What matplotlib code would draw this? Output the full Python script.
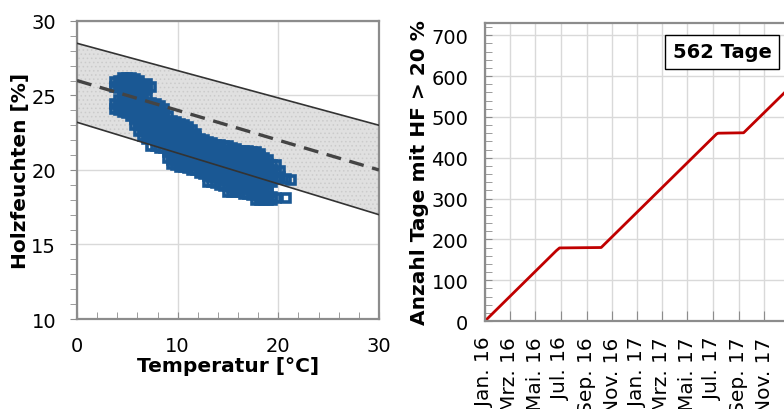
"""
plot.py — Holzfeuchte vs. Temperatur und kumulierte Tage mit HF > 20 %
"""

import matplotlib
matplotlib.use("Agg")
import matplotlib.pyplot as plt
from matplotlib.ticker import MultipleLocator
import pandas as pd

# ── Data: left panel (scatter + sorption band) ───────────────────────────────
band_temp = [0, 30]
band_upper = [28.5, 23.0]
band_mid = [26.0, 20.0]
band_lower = [23.2, 17.0]

temp_cols = [3.8, 4.2, 4.6, 5.0, 5.4, 5.8, 6.2, 6.6, 7.0, 7.4, 7.8, 8.2, 8.6,
             9.0, 9.4, 9.8, 10.2, 10.6, 11.0, 11.4, 11.8, 12.2, 12.6, 13.0,
             13.4, 13.8, 14.2, 14.6, 15.0, 15.4, 15.8, 16.2, 16.6, 17.0, 17.4,
             17.8, 18.2, 18.6, 19.0, 19.4, 19.8, 20.2, 20.8, 21.3]
moist_cols = [
    [24.1, 24.4, 25.6, 25.9],
    [24.0, 24.3, 24.7, 25.5, 25.8, 26.0],
    [23.9, 24.2, 24.6, 25.0, 25.4, 25.7, 26.0, 26.2],
    [23.8, 24.1, 24.5, 24.9, 25.3, 25.6, 25.9, 26.2],
    [23.6, 23.9, 24.3, 24.7, 25.0, 25.4, 25.7, 26.0, 26.2],
    [23.0, 23.4, 23.8, 24.2, 24.6, 24.9, 25.3, 25.6, 25.9, 26.1],
    [22.6, 23.0, 23.3, 23.7, 24.1, 24.5, 24.8, 25.2, 25.5, 25.8, 26.0],
    [22.3, 22.6, 23.0, 23.4, 23.8, 24.2, 24.6, 25.0, 25.4, 25.7],
    [22.1, 22.4, 22.8, 23.2, 23.6, 24.0, 24.4, 24.8, 25.5, 25.8],
    [21.6, 22.2, 22.5, 22.9, 23.3, 23.7, 24.1, 24.5, 25.6],
    [21.6, 22.0, 22.4, 22.8, 23.2, 23.6, 24.0, 24.4],
    [21.5, 21.9, 22.3, 22.7, 23.1, 23.5, 23.9, 24.3],
    [21.5, 21.8, 22.2, 22.6, 23.0, 23.4, 23.8, 24.1],
    [20.8, 21.2, 21.6, 22.0, 22.4, 22.8, 23.2, 23.6],
    [20.4, 20.7, 21.0, 21.4, 21.8, 22.2, 22.6, 23.0, 23.3],
    [20.3, 20.6, 21.0, 21.3, 21.7, 22.1, 22.5, 22.9, 23.2],
    [20.2, 20.5, 20.9, 21.2, 21.6, 22.0, 22.4, 22.8, 23.1],
    [20.2, 20.5, 20.8, 21.2, 21.6, 22.0, 22.4, 22.8, 23.0],
    [20.1, 20.4, 20.8, 21.1, 21.5, 21.9, 22.3, 22.7, 22.9],
    [20.0, 20.3, 20.7, 21.1, 21.5, 21.9, 22.3, 22.7],
    [20.0, 20.3, 20.6, 21.0, 21.4, 21.8, 22.2, 22.4],
    [19.8, 20.2, 20.6, 21.0, 21.4, 21.8, 22.1],
    [19.7, 20.0, 20.4, 20.8, 21.2, 21.6, 22.0],
    [19.2, 19.6, 20.0, 20.4, 20.8, 21.2, 21.6, 21.9],
    [19.2, 19.5, 19.9, 20.3, 20.7, 21.1, 21.5, 21.8],
    [19.1, 19.5, 19.8, 20.2, 20.6, 21.0, 21.4, 21.7],
    [19.0, 19.4, 19.8, 20.2, 20.6, 21.0, 21.4, 21.7],
    [18.9, 19.3, 19.7, 20.1, 20.5, 20.9, 21.3, 21.6],
    [18.5, 18.9, 19.3, 19.7, 20.1, 20.5, 20.9, 21.3, 21.6],
    [18.5, 18.8, 19.2, 19.6, 20.0, 20.4, 20.8, 21.2, 21.5],
    [18.5, 18.8, 19.2, 19.6, 20.0, 20.4, 20.8, 21.2, 21.4],
    [18.5, 18.8, 19.1, 19.5, 19.9, 20.3, 20.7, 21.1, 21.3],
    [18.4, 18.8, 19.1, 19.5, 19.9, 20.3, 20.7, 21.1, 21.3],
    [18.4, 18.7, 19.0, 19.4, 19.8, 20.2, 20.6, 21.0, 21.3],
    [18.3, 18.6, 19.0, 19.4, 19.8, 20.2, 20.6, 21.0, 21.2],
    [18.0, 18.3, 18.6, 19.0, 19.4, 19.8, 20.2, 20.6, 21.0, 21.2],
    [18.0, 18.2, 18.5, 18.9, 19.3, 19.7, 20.1, 20.5, 20.9, 21.1],
    [18.0, 18.2, 18.5, 18.9, 19.3, 19.7, 20.1, 20.5, 20.8],
    [18.0, 18.2, 18.5, 18.8, 19.2, 19.6, 20.0, 20.4, 20.7],
    [18.0, 18.2, 19.2, 19.6, 20.0, 20.3],
    [18.1, 19.4, 19.8, 20.3],
    [19.5, 19.9],
    [18.1, 19.4],
    [19.3],
]

# ── Data: right panel (cumulative days) ──────────────────────────────────────
cum_dates = ["2016-01-01", "2016-06-20", "2016-06-28", "2016-10-06",
             "2017-07-10", "2017-07-14", "2017-09-13", "2017-12-23"]
cum_days = [0, 172, 179, 180, 458, 460, 461, 562]

month_ticks = ["2016-01-01", "2016-03-01", "2016-05-01", "2016-07-01",
               "2016-09-01", "2016-11-01", "2017-01-01", "2017-03-01",
               "2017-05-01", "2017-07-01", "2017-09-01", "2017-11-01"]
month_labels = ["Jan. 16", "Mrz. 16", "Mai. 16", "Jul. 16", "Sep. 16",
                "Nov. 16", "Jan. 17", "Mrz. 17", "Mai. 17", "Jul. 17",
                "Sep. 17", "Nov. 17"]

BLUE = "#1A5894"
RED = "#C00000"
SPINE = "#8C8C8C"
GRID = "#D9D9D9"

plt.rcParams["font.family"] = ["DejaVu Sans"]
plt.rcParams["hatch.linewidth"] = 0.6

fig = plt.figure(figsize=(7.84, 4.10), dpi=100)

# ── Left: Holzfeuchte vs Temperatur ──────────────────────────────────────────
ax = fig.add_axes([0.0982, 0.2195, 0.3852, 0.727])
ax.set_axisbelow(True)
ax.grid(True, color=GRID, linewidth=1.0)
ax.fill_between(band_temp, band_lower, band_upper, facecolor="#E0E0E0",
                edgecolor="#CBCBCB", hatch="....", linewidth=0, zorder=1)

xs, ys = [], []
for t, col in zip(temp_cols, moist_cols):
    xs += [t] * len(col)
    ys += col
ax.plot(xs, ys, "s", markersize=6.0, markerfacecolor="none",
        markeredgecolor=BLUE, markeredgewidth=2.6, zorder=3)

ax.plot(band_temp, band_upper, color="#333333", linewidth=1.2, zorder=4)
ax.plot(band_temp, band_lower, color="#333333", linewidth=1.2, zorder=4)
ax.plot(band_temp, band_mid, color="#444444", linewidth=2.4,
        linestyle=(0, (4.5, 2.6)), zorder=4)

ax.set_xlim(0, 30)
ax.set_ylim(10, 30)
ax.set_xticks([0, 10, 20, 30])
ax.set_yticks([10, 15, 20, 25, 30])
ax.xaxis.set_minor_locator(MultipleLocator(2))
ax.yaxis.set_minor_locator(MultipleLocator(1))
ax.tick_params(axis="x", which="both", direction="in", length=5,
               color=SPINE, labelsize=14, pad=12)
ax.tick_params(axis="y", which="both", direction="out", length=5,
               color=SPINE, labelsize=14, pad=10)
for s in ax.spines.values():
    s.set_color(SPINE)
    s.set_linewidth(1.6)
ax.set_xlabel("Temperatur [°C]", fontsize=14.5, fontweight="bold", labelpad=1)
ax.set_ylabel("Holzfeuchten [%]", fontsize=14.5, fontweight="bold", labelpad=1)

# ── Right: Anzahl Tage mit HF > 20 % ─────────────────────────────────────────
ax2 = fig.add_axes([0.6186, 0.2146, 0.3814, 0.727])
ax2.set_axisbelow(True)
ax2.grid(True, color=GRID, linewidth=1.0)
ax2.plot(pd.to_datetime(cum_dates), cum_days, color=RED, linewidth=2.0)

ax2.set_xlim(pd.Timestamp("2016-01-01"), pd.Timestamp("2017-12-19"))
ax2.set_ylim(0, 730)
ax2.set_xticks(pd.to_datetime(month_ticks))
ax2.set_xticklabels(month_labels, rotation=90, va="top")
ax2.set_yticks(range(0, 701, 100))
ax2.yaxis.set_minor_locator(MultipleLocator(20))
ax2.tick_params(axis="x", direction="in", length=7, color=SPINE,
                labelsize=14.5, pad=11)
ax2.tick_params(axis="y", which="both", direction="in", length=5,
                color=SPINE, labelsize=14, pad=12)
ax2.spines["right"].set_visible(False)
for k in ("left", "top", "bottom"):
    ax2.spines[k].set_color(SPINE)
    ax2.spines[k].set_linewidth(1.6)
ax2.set_ylabel("Anzahl Tage mit HF > 20 %", fontsize=14.5, fontweight="bold",
               labelpad=2)
ax2.text(0.793, 0.903, "562 Tage", transform=ax2.transAxes, fontsize=14,
         fontweight="bold", ha="center", va="center",
         bbox=dict(boxstyle="square,pad=0.4", facecolor="white",
                   edgecolor="black", linewidth=1.0))

fig.savefig("out.png", dpi=100)
